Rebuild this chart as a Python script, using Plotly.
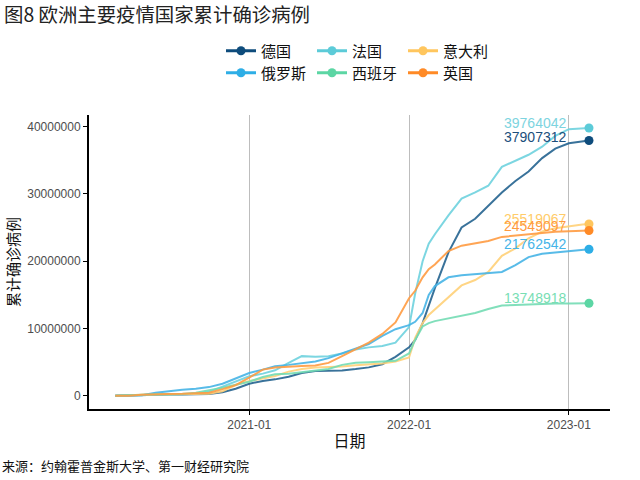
import plotly.graph_objects as go

dates = ["2020-03-01", "2020-04-01", "2020-05-01", "2020-06-01", "2020-07-01", "2020-08-01",
         "2020-09-01", "2020-10-01", "2020-11-01", "2020-12-01",
         "2021-01-01", "2021-02-01", "2021-03-01", "2021-04-01", "2021-05-01", "2021-06-01",
         "2021-07-01", "2021-08-01", "2021-09-01", "2021-10-01", "2021-11-01", "2021-12-01",
         "2022-01-01", "2022-01-15", "2022-02-01", "2022-02-15", "2022-03-01", "2022-04-01",
         "2022-05-01", "2022-06-01", "2022-07-01", "2022-08-01", "2022-09-01", "2022-10-01",
         "2022-11-01", "2022-12-01", "2023-01-01", "2023-02-01", "2023-02-16"]

# cumulative confirmed cases, millions
germany = [0.0, 0.07, 0.16, 0.18, 0.19, 0.21, 0.24, 0.29, 0.53, 1.06,
           1.8, 2.22, 2.45, 2.85, 3.4, 3.7, 3.73, 3.78, 3.98, 4.23, 4.7, 5.8,
           7.2, 8.3, 10.8, 13.5, 16.0, 21.3, 25.0, 26.3, 28.2, 30.2, 31.9, 33.3,
           35.3, 36.7, 37.5, 37.8, 37.907312]
france = [0.0, 0.06, 0.17, 0.19, 0.2, 0.23, 0.3, 0.6, 1.4, 2.2,
          2.9, 3.3, 3.8, 4.9, 5.9, 5.8, 5.9, 6.3, 6.9, 7.2, 7.4, 7.9,
          10.2, 15.2, 20.0, 22.6, 24.0, 26.8, 29.3, 30.2, 31.2, 34.0, 34.9, 35.8,
          37.0, 38.6, 39.6, 39.72, 39.764042]
italy = [0.0, 0.1, 0.2, 0.23, 0.24, 0.25, 0.27, 0.31, 0.68, 1.6,
         2.2, 2.6, 2.95, 3.6, 4.0, 4.2, 4.26, 4.37, 4.55, 4.67, 4.8, 5.1,
         5.7, 8.6, 10.8, 12.0, 12.8, 14.6, 16.4, 17.2, 18.4, 20.8, 21.9, 23.4,
         24.4, 24.9, 25.2, 25.45, 25.519067]
russia = [0.0, 0.003, 0.11, 0.45, 0.7, 0.9, 1.05, 1.3, 1.8, 2.6,
          3.4, 3.9, 4.4, 4.6, 4.8, 5.1, 5.6, 6.3, 7.0, 7.7, 8.9, 9.9,
          10.5, 11.0, 12.3, 15.0, 16.3, 17.6, 17.9, 18.1, 18.2, 18.4, 19.4, 20.6,
          21.1, 21.3, 21.5, 21.65, 21.762542]
spain = [0.0, 0.1, 0.21, 0.24, 0.25, 0.29, 0.46, 0.78, 1.2, 1.65,
         2.1, 2.8, 3.2, 3.3, 3.55, 3.7, 4.0, 4.6, 4.9, 5.0, 5.05, 5.2,
         6.3, 8.3, 10.3, 10.8, 11.1, 11.5, 11.9, 12.3, 12.9, 13.4, 13.5, 13.6,
         13.65, 13.7, 13.72, 13.74, 13.748918]
uk = [0.0, 0.03, 0.18, 0.27, 0.29, 0.31, 0.34, 0.47, 1.0, 1.6,
      2.7, 3.9, 4.2, 4.35, 4.42, 4.5, 4.9, 5.9, 6.9, 7.9, 9.2, 10.9,
      14.5, 15.6, 17.6, 18.8, 19.5, 21.5, 22.3, 22.6, 23.0, 23.6, 23.8, 24.0,
      24.2, 24.35, 24.45, 24.52, 24.549097]

countries = ["德国", "法国", "意大利", "俄罗斯", "西班牙", "英国"]
series = [germany, france, italy, russia, spain, uk]
marker_colors = ["#0e4c7c", "#5ccbd8", "#ffc65e", "#2eaee6", "#5cd6a4", "#ff8a26"]
line_colors = ["rgba(30,95,140,0.88)", "rgba(110,210,222,0.9)", "rgba(255,208,120,0.9)",
               "rgba(70,180,230,0.9)", "rgba(115,220,180,0.9)", "rgba(255,155,65,0.9)"]
label_colors = ["#1b4f7c", "#7dd4e0", "#ffcc6a", "#45b4e8", "#78deb4", "#ff9a40"]
label_yshift = [4, 5, 5, 5, 5, 5]

fig = go.Figure()
for name, vals, mc, lc in zip(countries, series, marker_colors, line_colors):
    yv = [v * 1e6 for v in vals]
    fig.add_trace(go.Scatter(x=dates, y=yv, mode="lines", line=dict(color=lc, width=2),
                             showlegend=False, hoverinfo="skip"))
for i, (name, vals, mc) in enumerate(zip(countries, series, marker_colors)):
    fig.add_trace(go.Scatter(x=[dates[-1]], y=[vals[-1] * 1e6], mode="lines+markers",
                             name=name, line=dict(color=mc, width=3),
                             marker=dict(color=mc, size=9),
                             legend="legend" if i < 3 else "legend2"))

for vals, c, ys in zip(series, label_colors, label_yshift):
    fig.add_annotation(x=dates[-1], y=vals[-1] * 1e6, text=f"{round(vals[-1] * 1e6)}",
                       xanchor="right", yanchor="middle", xshift=-20, yshift=ys,
                       showarrow=False, font=dict(size=14, color=c, family="Liberation Sans"))

base_font = "Noto Sans CJK SC"
legend_common = dict(orientation="h", xref="container", yref="container",
                     xanchor="left", yanchor="middle", entrywidth=46,
                     font=dict(size=15, color="#111111", family=base_font),
                     bgcolor="rgba(0,0,0,0)", tracegroupgap=0)

fig.update_layout(
    width=640, height=480,
    margin=dict(l=89, r=30, t=115, b=71, autoexpand=False),
    paper_bgcolor="white", plot_bgcolor="white",
    font=dict(family=base_font, color="#222222"),
    legend=dict(x=221 / 640, y=1 - 51 / 480, **legend_common),
    legend2=dict(x=221 / 640, y=1 - 73 / 480, **legend_common),
    xaxis=dict(type="date", range=["2020-01-01", "2023-04-05"],
               tickvals=["2021-01-01", "2022-01-01", "2023-01-01"],
               ticktext=["2021-01", "2022-01", "2023-01"],
               showgrid=True, gridcolor="#bdbdbd", gridwidth=1,
               showline=True, linecolor="black", linewidth=2,
               ticks="outside", ticklen=4, tickcolor="black", tickwidth=1,
               tickfont=dict(size=12, color="#4d4d4d", family="Liberation Sans"),
               title=dict(text="日期", font=dict(size=16, color="#111111", family=base_font),
                          standoff=4),
               automargin=False, zeroline=False),
    yaxis=dict(range=[-1.95e6, 41.7e6], tickvals=[0, 1e7, 2e7, 3e7, 4e7],
               ticktext=["0", "10000000", "20000000", "30000000", "40000000"],
               showgrid=False, showline=True, linecolor="black", linewidth=2,
               ticks="outside", ticklen=4, tickcolor="black", tickwidth=1,
               tickfont=dict(size=12, color="#4d4d4d", family="Liberation Sans"),
               title=dict(text="累计确诊病例", font=dict(size=15, color="#111111", family=base_font),
                          standoff=4),
               automargin=False, zeroline=False),
)

fig.add_annotation(xref="paper", yref="paper", x=-87 / 521, y=1 + 102 / 294,
                   xanchor="left", yanchor="middle", showarrow=False,
                   text="图8 欧洲主要疫情国家累计确诊病例",
                   font=dict(size=19.4, color="#222222", family=base_font))

fig.add_annotation(xref="paper", yref="paper", x=-89 / 521, y=-57 / 294,
                   xanchor="left", yanchor="middle", showarrow=False,
                   text="来源：约翰霍普金斯大学、第一财经研究院",
                   font=dict(size=13, color="#111111", family=base_font))

fig.write_html("out.html", config={"displayModeBar": False},
               post_script="document.body.style.margin='0';")
